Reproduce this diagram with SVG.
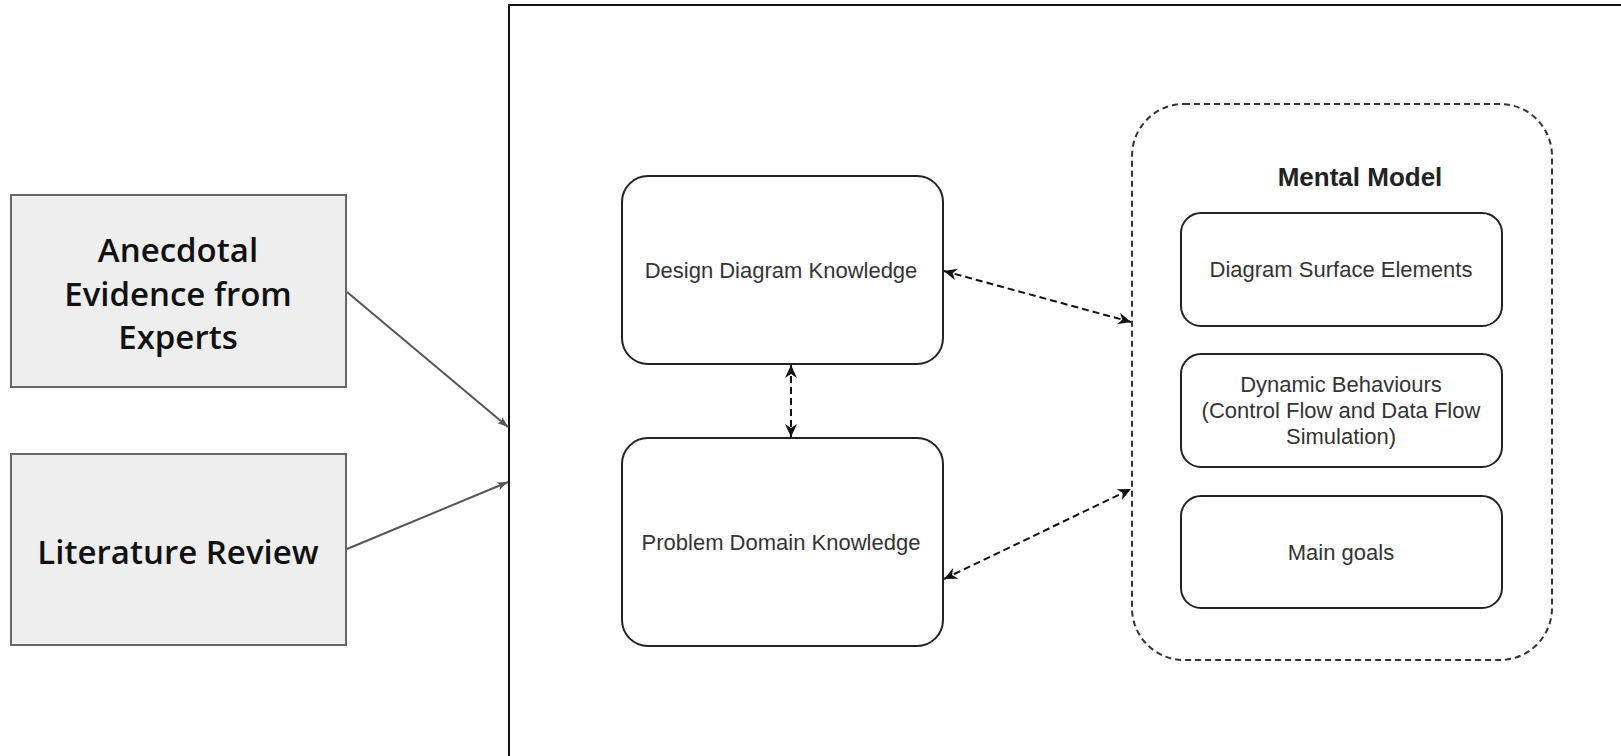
<svg xmlns="http://www.w3.org/2000/svg" width="1621" height="756" viewBox="0 0 1621 756">
  <style>
    .src rect { fill: #eeeeee; stroke: #666666; stroke-width: 2; }
    .src text { font-family: "Open Sans", "Lato", sans-serif; font-weight: 600; font-size: 33px; fill: #111111; text-anchor: middle; }
    .box rect { fill: #ffffff; stroke: #222222; stroke-width: 2; }
    .box text { font-family: "Liberation Sans", Arial, sans-serif; font-size: 22px; fill: #333333; text-anchor: middle; }
    .feed { stroke: #555555; stroke-width: 2; fill: none; }
    .link { stroke: #111111; stroke-width: 2; stroke-dasharray: 7 4; fill: none; }
  </style>
  <defs>
    <marker id="thin" viewBox="0 0 12 10" refX="11" refY="5" markerWidth="12" markerHeight="10" markerUnits="userSpaceOnUse" orient="auto">
      <path d="M0,1 L11,5 L0,9 L3,5 Z" fill="#555555"/>
    </marker>
    <marker id="solid" viewBox="0 0 14 12" refX="13" refY="6" markerWidth="14" markerHeight="12" markerUnits="userSpaceOnUse" orient="auto-start-reverse">
      <path d="M0,0 L13,6 L0,12 L4,6 Z" fill="#111111"/>
    </marker>
  </defs>

  <rect width="1621" height="756" fill="#ffffff"/>

  <!-- outer study frame (runs past the right and bottom edges) -->
  <rect id="frame" x="509" y="5" width="1200" height="900" fill="none" stroke="#111111" stroke-width="2"/>

  <g id="anecdotal" class="src">
    <rect x="11" y="195" width="335" height="192"/>
    <text x="178" y="262">Anecdotal</text>
    <text x="178" y="306">Evidence from</text>
    <text x="178" y="349">Experts</text>
  </g>

  <g id="literature" class="src">
    <rect x="11" y="454" width="335" height="191"/>
    <text x="178" y="564">Literature Review</text>
  </g>

  <g id="design-knowledge" class="box">
    <rect x="622" y="176" width="321" height="188" rx="26"/>
    <text x="781" y="278">Design Diagram Knowledge</text>
  </g>

  <g id="problem-knowledge" class="box">
    <rect x="622" y="438" width="321" height="208" rx="26"/>
    <text x="781" y="550">Problem Domain Knowledge</text>
  </g>

  <g id="mental-model">
    <rect x="1132" y="104" width="420" height="556" rx="52" fill="none" stroke="#333333" stroke-width="2" stroke-dasharray="6 4"/>
    <text x="1360" y="186" font-family="Liberation Sans, Arial, sans-serif" font-weight="bold" font-size="26px" fill="#222222" text-anchor="middle">Mental Model</text>
  </g>

  <g id="surface-elements" class="box">
    <rect x="1181" y="213" width="321" height="113" rx="20"/>
    <text x="1341" y="277">Diagram Surface Elements</text>
  </g>

  <g id="dynamic-behaviours" class="box">
    <rect x="1181" y="354" width="321" height="113" rx="20"/>
    <text x="1341" y="392">Dynamic Behaviours</text>
    <text x="1341" y="418">(Control Flow and Data Flow</text>
    <text x="1341" y="444">Simulation)</text>
  </g>

  <g id="main-goals" class="box">
    <rect x="1181" y="496" width="321" height="112" rx="20"/>
    <text x="1341" y="560">Main goals</text>
  </g>

  <g id="connectors">
    <line class="feed" x1="347" y1="292" x2="508" y2="427" marker-end="url(#thin)"/>
    <line class="feed" x1="347" y1="549" x2="508" y2="482" marker-end="url(#thin)"/>
    <line class="link" x1="944" y1="271" x2="1131" y2="322" marker-start="url(#solid)" marker-end="url(#solid)"/>
    <line class="link" x1="944" y1="579" x2="1131" y2="489" marker-start="url(#solid)" marker-end="url(#solid)"/>
    <line class="link" x1="791" y1="365" x2="791" y2="437" marker-start="url(#solid)" marker-end="url(#solid)"/>
  </g>
</svg>
